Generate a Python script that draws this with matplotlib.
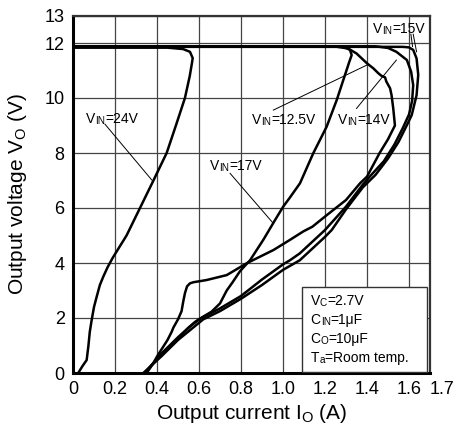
import matplotlib
matplotlib.use('Agg')
import matplotlib.pyplot as plt
from matplotlib.patches import Rectangle

plt.rcParams['font.family'] = 'Liberation Sans'
plt.rcParams['mathtext.default'] = 'regular'

# Vin = 24V
i_24 = [0, 0.45, 0.524, 0.557, 0.570, 0.567, 0.556, 0.533, 0.49, 0.446, 0.383,
        0.319, 0.255, 0.19, 0.165, 0.144, 0.128, 0.113, 0.1, 0.089, 0.08,
        0.073, 0.065, 0.045, 0.025]
v_24 = [11.83, 11.83, 11.78, 11.68, 11.45, 11.3, 10.8, 10.0, 9.0, 8.0, 7.0,
        6.0, 5.0, 4.2, 3.85, 3.5, 3.2, 2.78, 2.4, 1.93, 1.5,
        0.96, 0.47, 0.25, 0]

# Vin = 17V
i_17 = [0, 1.22, 1.29, 1.319, 1.327, 1.315, 1.30, 1.287, 1.256, 1.208, 1.144,
        1.081, 1.03, 1.001, 0.962, 0.906, 0.843, 0.795, 0.76, 0.732, 0.70,
        0.66, 0.62, 0.58, 0.50, 0.42, 0.37, 0.345]
v_17 = [11.88, 11.88, 11.86, 11.75, 11.56, 11.3, 10.95, 10.65, 9.93, 8.96, 7.99,
        6.9, 6.35, 6.05, 5.56, 4.84, 4.1, 3.7, 3.3, 3.0, 2.53,
        2.23, 2.05, 1.85, 1.3, 0.7, 0.25, 0]

# Vin = 12.5V
i_125 = [0, 1.25, 1.31, 1.35, 1.40, 1.43, 1.454, 1.47, 1.486, 1.492, 1.51, 1.517,
         1.525, 1.533, 1.50, 1.46, 1.40, 1.367, 1.30, 1.21, 1.14, 1.097, 1.033,
         0.954, 0.827, 0.732, 0.636, 0.573, 0.557, 0.543, 0.533, 0.525, 0.517,
         0.50, 0.478, 0.47, 0.45, 0.43, 0.40, 0.382, 0.36, 0.35]
v_125 = [11.87, 11.87, 11.8, 11.62, 11.26, 11.08, 10.9, 10.8, 10.75, 10.6, 10.35, 10.1,
         9.62, 9.0, 8.5, 8.0, 7.14, 6.9, 6.29, 5.75, 5.32, 5.15, 4.84,
         4.47, 3.99, 3.56, 3.38, 3.3, 3.26, 3.15, 2.9, 2.6, 2.25,
         1.95, 1.65, 1.5, 1.2, 0.96, 0.6, 0.35, 0.1, 0]

# Vin = 14V
i_14 = [0, 1.44, 1.50, 1.54, 1.59, 1.61, 1.62, 1.615, 1.60, 1.57, 1.53, 1.48,
        1.42, 1.38, 1.30, 1.20, 1.08, 1.033, 1.0, 0.9, 0.8, 0.7, 0.6, 0.55,
        0.48, 0.40, 0.34]
v_14 = [11.88, 11.88, 11.82, 11.68, 11.38, 10.96, 10.47, 9.9, 9.4, 8.9, 8.3, 7.7,
        7.2, 6.85, 6.05, 5.2, 4.35, 4.1, 3.95, 3.4, 2.8, 2.35, 1.95, 1.65,
        1.1, 0.5, 0]

# Vin = 15V
i_15 = [0, 1.57, 1.60, 1.62, 1.636, 1.644, 1.636, 1.613, 1.589, 1.55, 1.50,
        1.44, 1.38, 1.30, 1.232, 1.20, 1.08, 1.0, 0.9, 0.8, 0.7, 0.62, 0.5,
        0.42, 0.335]
v_15 = [11.86, 11.86, 11.84, 11.75, 11.44, 10.84, 10.1, 9.38, 9.0, 8.4, 7.8,
        7.2, 6.75, 5.95, 5.2, 4.95, 4.1, 3.75, 3.2, 2.7, 2.25, 1.95, 1.2,
        0.6, 0]

x_ticks = [0, 0.2, 0.4, 0.6, 0.8, 1.0, 1.2, 1.4, 1.6, 1.7]
x_labels = ['0', '0.2', '0.4', '0.6', '0.8', '1.0', '1.2', '1.4', '1.6', '1.7']
y_ticks = [0, 2, 4, 6, 8, 10, 12, 13]

conditions = [('V', 'C', '=2.7V'), ('C', 'IN', '=1μF'),
              ('C', 'O', '=10μF'), ('T', 'a', '=Room temp.')]

fig = plt.figure(figsize=(4.61, 4.32), dpi=100)
ax = fig.add_axes([73 / 461, 59 / 432, 357 / 461, 357.5 / 432])


def label_sub(x, y, main, sub, rest, size=10):
    # big letter, small suffix on the baseline, then the rest
    t = ax.text(x, y, main, fontsize=size, va='baseline', ha='left', zorder=5)
    s = ax.annotate(sub, xy=(1, 0), xycoords=t, fontsize=size * 0.72,
                    va='bottom', ha='left', zorder=5)
    ax.annotate(rest, xy=(1, 0), xycoords=s, fontsize=size,
                va='bottom', ha='left', zorder=5)


for xs, ys in [(i_24, v_24), (i_17, v_17), (i_125, v_125), (i_14, v_14), (i_15, v_15)]:
    ax.plot(xs, ys, color='black', lw=1.8, solid_joinstyle='round', zorder=3)

# leader lines
leaders = [((0.152, 0.375), (9.05, 7.02)),
           ((0.748, 0.954), (7.26, 5.44)),
           ((0.954, 1.40), (9.56, 11.2)),
           ((1.35, 1.54), (9.62, 11.38)),
           ((1.609, 1.617), (12.32, 11.87)),
           ((1.62, 1.636), (12.32, 11.68))]
for xs, ys in leaders:
    ax.plot(xs, ys, color='black', lw=0.7, zorder=3)

label_sub(0.062, 9.08, 'V', 'IN', '=24V')
label_sub(0.652, 7.38, 'V', 'IN', '=17V')
label_sub(0.851, 9.05, 'V', 'IN', '=12.5V')
label_sub(1.263, 9.05, 'V', 'IN', '=14V')
label_sub(1.43, 12.35, 'V', 'IN', '=15V')

# conditions box
ax.add_patch(Rectangle((1.089, 0.04), 0.595, 3.08, facecolor='white',
                       edgecolor='#333333', lw=1.0, zorder=4))
for k, (a, b, c) in enumerate(conditions):
    label_sub(1.132, 2.47 - k * 0.69, a, b, c)

ax.set_xlim(0, 1.7)
ax.set_ylim(0, 13)
ax.set_xticks(x_ticks)
ax.set_xticklabels(x_labels)
ax.set_yticks(y_ticks)
ax.tick_params(length=0, labelsize=13, pad=6)
ax.get_xticklabels()[-1].set_horizontalalignment('left')
ax.grid(True, color='#444444', lw=0.9)
ax.set_axisbelow(True)

for side in ['left', 'bottom']:
    ax.spines[side].set_linewidth(2.2)
    ax.spines[side].set_color('black')
for side in ['top', 'right']:
    ax.spines[side].set_linewidth(1.6)
    ax.spines[side].set_color('#333333')

ax.set_xlabel('Output current I$_O$ (A)', fontsize=15, va='center')
ax.set_ylabel('Output voltage V$_O$ (V)', fontsize=15, va='center')
ax.xaxis.set_label_coords(0.5, -0.112)
ax.yaxis.set_label_coords(-0.155, 0.5)

fig.savefig('out.png', dpi=100)
